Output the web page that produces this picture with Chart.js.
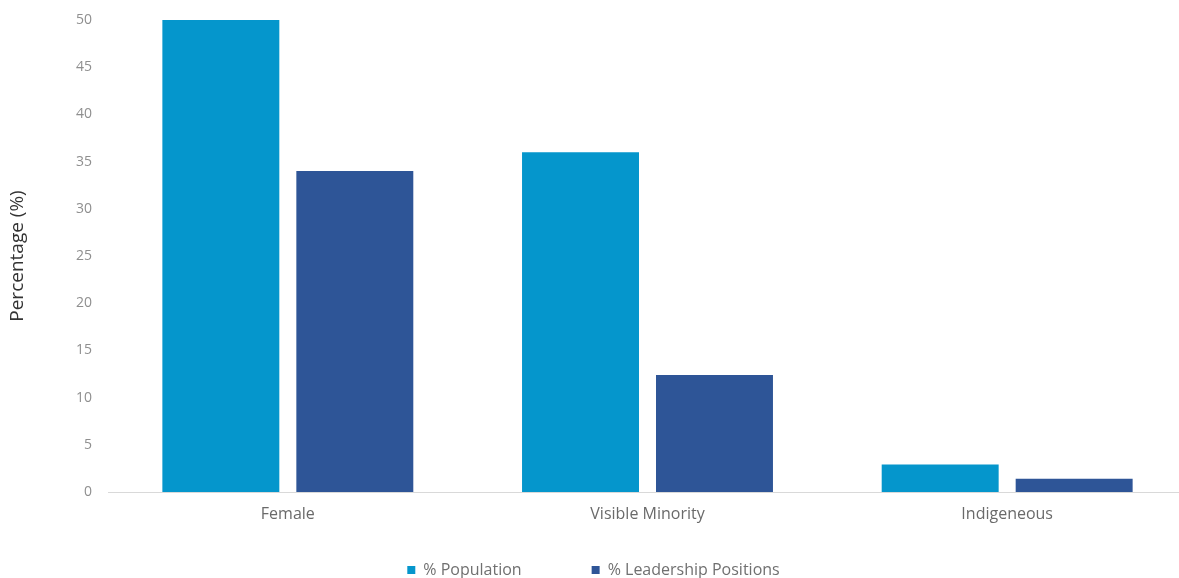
<!DOCTYPE html>
<html>
<head>
<meta charset="utf-8">
<script src="https://cdn.jsdelivr.net/npm/chart.js@4"></script>
<style>
  html, body { margin: 0; padding: 0; background: #fff; overflow: hidden; }
  #wrap { width: 1187px; height: 578px; }
</style>
</head>
<body>
<div id="wrap"><canvas id="representation"></canvas></div>
<script>
// Categories and series
var groups = ["Female", "Visible Minority", "Indigeneous"];
var populationShare = [50, 36, 2.9];
var leadershipShare = [34, 12.4, 1.4];
var yTicks = [0, 5, 10, 15, 20, 25, 30, 35, 40, 45, 50];

document.addEventListener("DOMContentLoaded", function() {
    new Chart("representation", {
        type: "bar",
        data: {
            labels: groups,
            datasets: [{
                label: "% Population",
                backgroundColor: "#0596cc",
                data: populationShare
            }, {
                label: "% Leadership Positions",
                backgroundColor: "#2e5597",
                data: leadershipShare
            }]
        },
        options: {
            responsive: true,
            maintainAspectRatio: false,
            animation: false,
            layout: { padding: { top: 20, right: 0, left: 0, bottom: -10 } },
            datasets: {
                bar: { categoryPercentage: 0.745, barPercentage: 0.873 }
            },
            scales: {
                x: {
                    grid: { display: false, drawTicks: false },
                    border: { color: "#d9d9d9", width: 1 },
                    ticks: {
                        color: "#6a6a6a",
                        padding: 13,
                        font: { family: "Open Sans", size: 16 }
                    },
                    // labels hang below the axis; the wide legend sits right under the plot
                    afterFit: function(scale) {
                        scale.height = 0;
                        scale._computeLabelArea = function() { return undefined; };
                    }
                },
                y: {
                    min: 0,
                    max: 50,
                    afterBuildTicks: function(scale) {
                        scale.ticks = yTicks.map(function(v) { return { value: v }; });
                    },
                    grid: { display: false, drawTicks: false },
                    border: { display: false },
                    ticks: {
                        color: "#8f8f8f",
                        padding: 16,
                        font: { family: "Open Sans", size: 14 }
                    },
                    title: {
                        display: true,
                        text: "Percentage (%)",
                        color: "#333333",
                        font: { family: "Open Sans", size: 19 },
                        padding: { top: 6, bottom: 0 }
                    },
                    afterFit: function(scale) {
                        scale.width = 108;
                        scale.paddingTop = 0;
                        scale.paddingBottom = 0;
                    }
                }
            },
            plugins: {
                legend: {
                    position: "bottom",
                    labels: {
                        color: "#707070",
                        boxWidth: 8,
                        boxHeight: 8,
                        padding: 70,
                        font: { family: "Open Sans", size: 16 }
                    }
                },
                tooltip: { enabled: false }
            }
        }
    });
});
</script>
</body>
</html>
